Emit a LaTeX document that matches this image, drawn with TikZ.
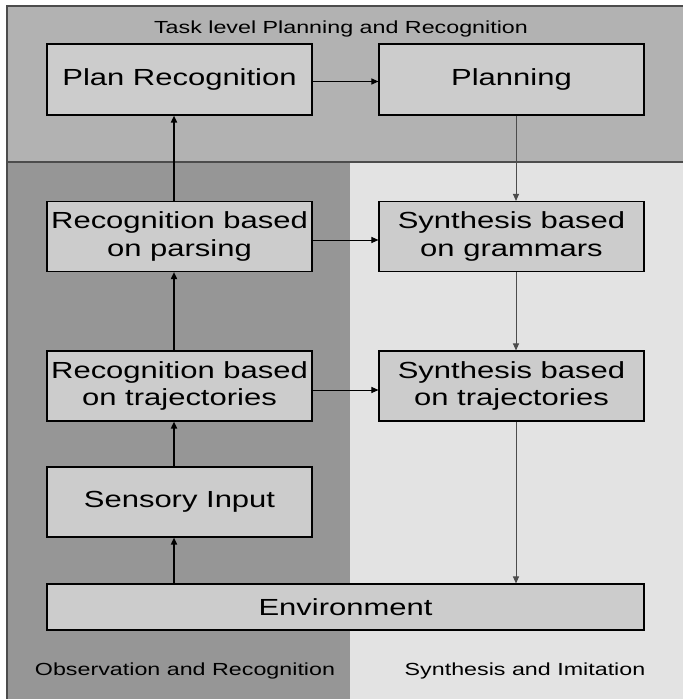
\documentclass[tikz,border=0pt]{standalone}
\usepackage{fontspec}
\setmainfont{Liberation Sans}
\newfontfamily\widefont[FakeStretch=1.33]{Liberation Sans}
\usetikzlibrary{arrows.meta}
\definecolor{bandgray}{gray}{0.70}
\definecolor{obsgray}{gray}{0.59}
\definecolor{synthgray}{gray}{0.89}
\definecolor{boxgray}{gray}{0.80}
\definecolor{linegray}{gray}{0.30}
\begin{document}
\begin{tikzpicture}[x=1pt,y=-1pt,
  box/.style={draw=black, line width=1.1pt, fill=boxgray, minimum width=265pt, minimum height=70pt,
    align=center, inner sep=0pt, font=\widefont\fontsize{23.3}{27.5}\selectfont},
  region/.style={font=\widefont\fontsize{17.5}{20}\selectfont},
  up/.style={line width=1.6pt, -{Triangle[length=7pt,width=6pt]}},
  down/.style={draw=linegray, line width=1pt, -{Triangle[length=7pt,width=6pt]}},
  across/.style={line width=1pt, -{Triangle[length=7pt,width=6pt]}}]
  \useasboundingbox (0,0) rectangle (683,699);

  \fill[bandgray] (7,6) rectangle (683,162);
  \fill[obsgray] (7,162) rectangle (350,699);
  \fill[synthgray] (350,162) rectangle (683,699);
  \draw[linegray, line width=1.4pt] (7,699) -- (7,6) -- (683,6);
  \draw[linegray, line width=1.2pt] (7,162) -- (683,162);

  \node[region] (task) at (341,29) {Task level Planning and Recognition};
  \node[region] (obs) at (185,671) {Observation and Recognition};
  \node[region] (synth) at (525,671) {Synthesis and Imitation};

  \node[box, minimum height=71pt] (planrec) at (179.5,79.5) {Plan Recognition};
  \node[box, minimum height=71pt] (planning) at (511.5,79.5) {Planning};
  \node[box] (parsing) at (179.5,236.5) {Recognition based\\on parsing};
  \node[box] (grammars) at (511.5,236.5) {Synthesis based\\on grammars};
  \node[box] (rectraj) at (179.5,386) {Recognition based\\on trajectories};
  \node[box] (syntraj) at (511.5,386) {Synthesis based\\on trajectories};
  \node[box] (sensory) at (179.5,502) {Sensory Input};
  \node[box, minimum width=597pt, minimum height=46pt] (env) at (345.5,607) {Environment};

  \draw[up] ([xshift=-5.5pt]env.north -| sensory.north) -- ([xshift=-5.5pt]sensory.south);
  \draw[up] ([xshift=-5.5pt]sensory.north) -- ([xshift=-5.5pt]rectraj.south);
  \draw[up] ([xshift=-5.5pt]rectraj.north) -- ([xshift=-5.5pt]parsing.south);
  \draw[up] ([xshift=-5.5pt]parsing.north) -- ([xshift=-5.5pt]planrec.south);

  \draw[down] ([xshift=4.5pt]planning.south) -- ([xshift=4.5pt]grammars.north);
  \draw[down] ([xshift=4.5pt]grammars.south) -- ([xshift=4.5pt]syntraj.north);
  \draw[down] ([xshift=4.5pt]syntraj.south) -- ([xshift=4.5pt]syntraj.south |- env.north);

  \draw[across] ([yshift=-2pt]planrec.east) -- ([yshift=-2pt]planning.west);
  \draw[across] ([yshift=-3.5pt]parsing.east) -- ([yshift=-3.5pt]grammars.west);
  \draw[across] ([yshift=-4pt]rectraj.east) -- ([yshift=-4pt]syntraj.west);
\end{tikzpicture}
\end{document}
